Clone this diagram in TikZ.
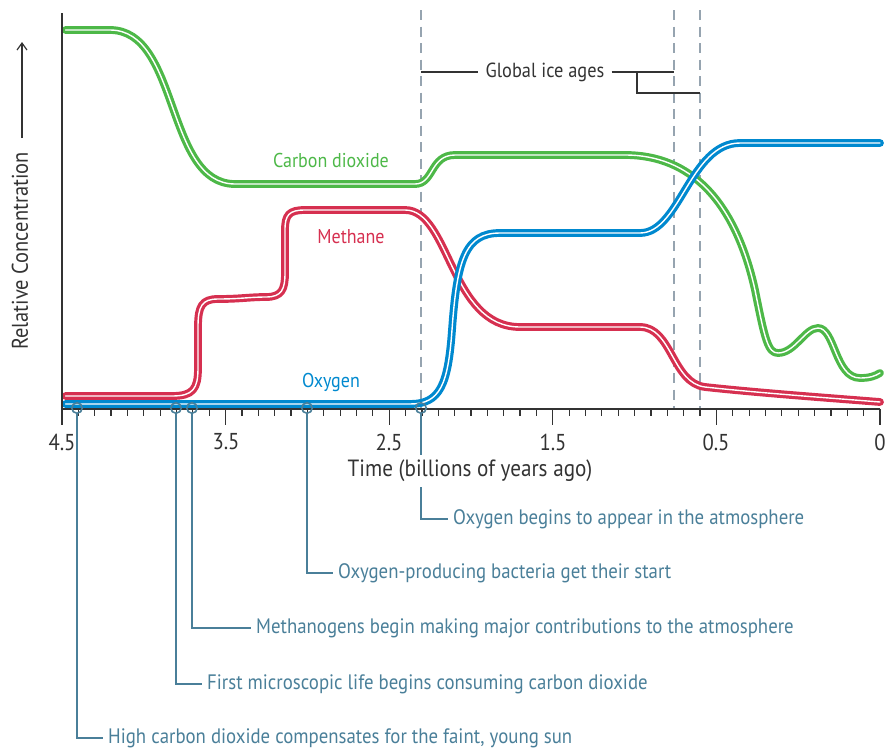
\documentclass[tikz,border=0pt]{standalone}
\usepackage{fontspec}
\setmainfont[FakeStretch=0.9]{PT Sans}
\usetikzlibrary{arrows.meta,calc}
\definecolor{cgreen}{RGB}{77,184,72}
\definecolor{cred}{RGB}{214,48,80}
\definecolor{cblue}{RGB}{0,137,207}
\definecolor{cteal}{RGB}{74,127,153}
\definecolor{cdash}{RGB}{150,164,176}
\definecolor{cdark}{RGB}{51,51,51}
\tikzset{
  curve/.style={draw=#1, double=white, double distance=1.4pt, line width=3.2pt, line cap=round, line join=round},
  txt/.style={font=\fontsize{20}{24}\selectfont, inner sep=1pt, text=cdark},
  numlab/.style={font=\fontsize{23}{27}\selectfont, inner sep=1pt, text=cdark},
  annot/.style={font=\fontsize{20.9}{25}\selectfont, inner xsep=5pt, inner ysep=2pt, text=cteal, anchor=west},
  lead/.style={draw=cteal, line width=1.4pt},
  marker/.style={circle, draw=cteal, line width=1.6pt, minimum size=10.5pt, inner sep=0pt},
  icedash/.style={draw=cdash, line width=2.5pt, dash pattern=on 10pt off 6.5pt},
  axisline/.style={draw=cdark, line width=1.4pt},
  tick/.style={draw=cdark, line width=1.2pt},
  bracket/.style={draw=cdark, line width=1.3pt}
}
\begin{document}
\begin{tikzpicture}[x=1pt,y=-1pt]
\useasboundingbox (0,0) rectangle (887,748);
% ice age dashed lines
\coordinate (d1t) at (421,10); \coordinate (d1b) at (421,408);
\coordinate (d2t) at (674,10); \coordinate (d2b) at (674,408);
\coordinate (d3t) at (700,10); \coordinate (d3b) at (700,408);
\draw[icedash] (d1t) -- (d1b);
\draw[icedash] (d2t) -- (d2b);
\draw[icedash] (d3t) -- (d3b);
% global ice ages label and bracket
\node[txt, font=\fontsize{20.4}{24}\selectfont] (ice) at (545,72) {Global ice ages};
\coordinate (i1) at (421,72); \coordinate (i2) at (674,72);
\coordinate (i3) at (637,72); \coordinate (i4) at (700,93);
\draw[bracket] (i1) -- ([xshift=-6pt]ice.west);
\draw[bracket] ([xshift=6pt]ice.east) -- (i2);
\draw[bracket] (i3) |- (i4);
% curves
\draw[curve=cgreen] (65.5,30) -- (110,30) .. controls (180,30) and (165,184) .. (235,184) -- (415,184)
  .. controls (434,184) and (430,155) .. (455,155) -- (625,155)
  .. controls (690,155) and (735,200) .. (755,290)
  .. controls (765,340) and (768,353) .. (778,353)
  .. controls (795,353) and (805,328) .. (818,328)
  .. controls (835,328) and (835,378) .. (860,378)
  .. controls (870,378) and (875,376) .. (880,373);
\draw[curve=cred] (65.5,396) -- (172,396) .. controls (193,396) and (198,389) .. (198,368) -- (198,327)
  .. controls (198,306) and (202,299) .. (218,299)
  .. controls (240,299) and (250,297) .. (266,297)
  .. controls (282,297) and (285,289) .. (285,273) -- (285,230)
  .. controls (285,215) and (289,210) .. (305,210) -- (405,210)
  .. controls (450,210) and (450,327) .. (520,327) -- (640,327)
  .. controls (672,327) and (672,383) .. (705,387)
  .. controls (760,393) and (830,398) .. (880,402);
\draw[curve=cblue] (65.5,404) -- (410,404) .. controls (440,404) and (448,385) .. (452,330)
  .. controls (457,260) and (465,233) .. (500,233) -- (640,233)
  .. controls (680,233) and (690,143) .. (740,143) -- (880,143);
% axes
\coordinate (ytop) at (62,13); \coordinate (orig) at (62,409); \coordinate (xend) at (880,409);
\draw[axisline] (ytop) -- (orig) -- (xend);
\foreach \i in {0,...,50}{
  \pgfmathsetmacro{\xx}{62+16.36*\i}
  \pgfmathtruncatemacro{\mm}{mod(\i,10)}
  \ifnum\mm=0
    \draw[tick] (\xx,409) -- (\xx,425);
  \else
    \draw[tick] (\xx,409) -- (\xx,416);
  \fi
}
% axis labels
\node[numlab] (l45) at (62,442) {4.5};
\node[numlab] (l35) at (226,442) {3.5};
\node[numlab] (l25) at (389,442) {2.5};
\node[numlab] (l15) at (553,442) {1.5};
\node[numlab] (l05) at (716,442) {0.5};
\node[numlab] (l0) at (880,442) {0};
\node[numlab, font=\fontsize{23.5}{27}\selectfont] (timelab) at (470,471) {Time (billions of years ago)};
\node[txt, rotate=90, font=\fontsize{22.7}{27}\selectfont] (ylab) at (20,251) {Relative Concentration};
\coordinate (ya1) at (22,138); \coordinate (ya2) at (22,42);
\draw[draw=cdark, line width=1.2pt, -{Straight Barb[length=7pt,width=10pt]}] (ya1) -- (ya2);
% curve labels
\node[txt, text=cgreen] (lco2) at (331,160) {Carbon dioxide};
\node[txt, text=cred] (lch4) at (351,237) {Methane};
\node[txt, text=cblue] (lo2) at (331,382) {Oxygen};
% markers
\node[marker] (m1) at (77,408) {};
\node[marker] (m2) at (176,408) {};
\node[marker] (m3) at (192,408) {};
\node[marker] (m4) at (307,408) {};
\node[marker] (m5) at (421,408) {};
% annotations
\node[annot] (t5) at (448,519) {Oxygen begins to appear in the atmosphere};
\node[annot] (t4) at (333,573) {Oxygen-producing bacteria get their start};
\node[annot] (t3) at (251,628) {Methanogens begin making major contributions to the atmosphere};
\node[annot] (t2) at (202,684) {First microscopic life begins consuming carbon dioxide};
\node[annot] (t1) at (103,738) {High carbon dioxide compensates for the faint, young sun};
\draw[lead] (m5.south) -- ([yshift=4pt]m5.south |- timelab.north);
\draw[lead] ([yshift=-4pt]m5.south |- timelab.south) |- (t5.west);
\draw[lead] (m4.south) |- (t4.west);
\draw[lead] (m3.south) |- (t3.west);
\draw[lead] (m2.south) |- (t2.west);
\draw[lead] (m1.south) |- (t1.west);
\end{tikzpicture}
\end{document}
